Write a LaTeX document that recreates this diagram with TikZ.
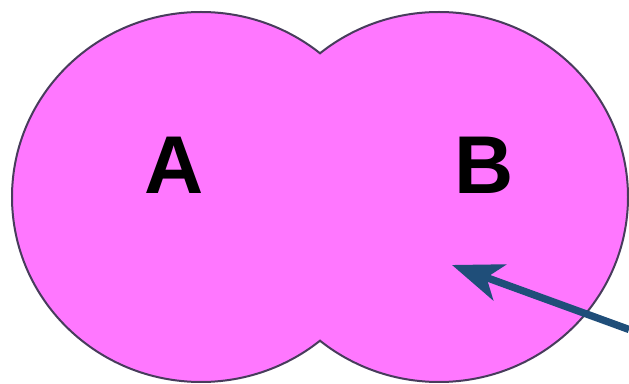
\documentclass[tikz,border=0pt]{standalone}
\usepackage{fontspec}
\setmainfont{Liberation Sans}
\usetikzlibrary{arrows.meta}
\definecolor{setfill}{RGB}{255,119,255}
\definecolor{setedge}{RGB}{72,60,92}
\definecolor{pointer}{RGB}{31,78,121}
\tikzset{
  setshape/.style={fill=setfill},
  setline/.style={draw=setedge,line width=1.5pt},
  setlabel/.style={font=\bfseries\fontsize{61.5pt}{61.5pt}\selectfont,text=black,inner sep=0pt},
  pointerline/.style={draw=pointer,line width=5.5pt,
    -{Stealth[length=38pt,width=28.5pt,inset=10.5pt]}}
}
\begin{document}
\begin{tikzpicture}[x=0.75pt,y=-0.75pt]
  \useasboundingbox (0,0) rectangle (629,384);
  \fill[white] (0,0) rectangle (629,384);
  % the two sets: equal ellipses, shifted horizontally
  \fill[setshape] (201,197) ellipse [x radius=189,y radius=185];
  \fill[setshape] (439,197) ellipse [x radius=189,y radius=185];
  % outline of the union: each ellipse outside the other lies on its own side of x=320
  \begin{scope}
    \clip (-10,-10) rectangle (320,400);
    \draw[setline] (201,197) ellipse [x radius=189,y radius=185];
  \end{scope}
  \begin{scope}
    \clip (320,-10) rectangle (640,400);
    \draw[setline] (439,197) ellipse [x radius=189,y radius=185];
  \end{scope}
  % labels
  \node[setlabel] (labelA) at (174.5,165) {A};
  \node[setlabel] (labelB) at (484,165) {B};
  % pointer into set B
  \coordinate (pointerstart) at (629,329.5);
  \coordinate (pointertip) at (452,265);
  \draw[pointerline] (pointerstart) -- (pointertip);
\end{tikzpicture}
\end{document}
